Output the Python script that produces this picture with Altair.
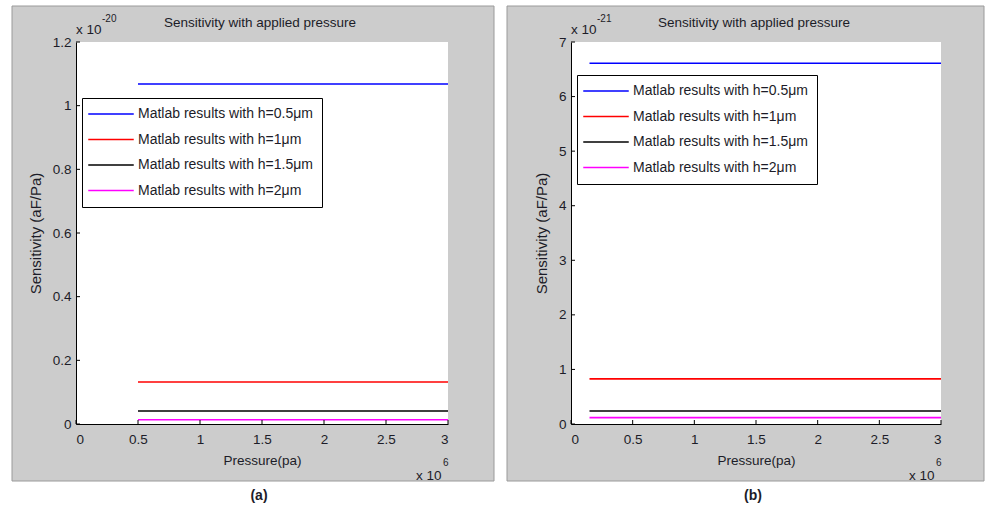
import altair as alt
import pandas as pd

# Series labels and colours (shared by both panels)
series_labels = [
    "Matlab results with h=0.5μm",
    "Matlab results with h=1μm",
    "Matlab results with h=1.5μm",
    "Matlab results with h=2μm",
]
series_colors = ["#0000ff", "#ff0000", "#000000", "#ff00ff"]

# Panel (a): pressure in units of 1e6 Pa, sensitivity in units of 1e-20 aF/Pa
pressure_a = [0.5, 3.0]
sens_a = [1.068, 0.132, 0.041, 0.0135]
yticks_a = [0, 0.2, 0.4, 0.6, 0.8, 1.0, 1.2]

# Panel (b): pressure in units of 1e6 Pa, sensitivity in units of 1e-21 aF/Pa
pressure_b = [0.15, 3.0]
sens_b = [6.61, 0.827, 0.239, 0.116]
yticks_b = [0, 1, 2, 3, 4, 5, 6, 7]

xticks = [0, 0.5, 1.0, 1.5, 2.0, 2.5, 3.0]

FONT = "Liberation Sans"
FS = 13.5
TXT = "#1c1c28"
H = 382


def series_frame(pressure, sens):
    rows = []
    for lab, s in zip(series_labels, sens):
        for p in pressure:
            rows.append({"p": p, "s": s, "series": lab})
    return pd.DataFrame(rows)


def text_at(txt, x, y, size=FS, align="left", weight="normal", baseline="alphabetic"):
    return (
        alt.Chart(pd.DataFrame({"k": [0]}))
        .mark_text(font=FONT, fontSize=size, align=align, baseline=baseline,
                   fontWeight=weight, color=TXT)
        .encode(x=alt.value(x), y=alt.value(y), text=alt.value(txt))
    )


def panel(pressure, sens, ymax, yticks, W, exp_txt, caption, leg_y, gray_right):
    xscale = alt.Scale(domain=[0, 3], nice=False)
    yscale = alt.Scale(domain=[0, ymax], nice=False)
    one = pd.DataFrame({"k": [0]})

    gray = alt.Chart(one).mark_rect(fill="#cccccc", stroke="#9a9a9a", strokeWidth=1).encode(
        x=alt.value(-64), x2=alt.value(W + gray_right), y=alt.value(-36), y2=alt.value(H + 57)
    )
    white = alt.Chart(one).mark_rect(fill="white").encode(
        x=alt.value(0), x2=alt.value(W), y=alt.value(0), y2=alt.value(H)
    )

    xaxis = alt.Axis(
        values=xticks, format="~g", ticks=False, grid=False, domainColor="black",
        labelFont=FONT, labelFontSize=FS, labelColor=TXT, labelPadding=8,
        title="Pressure(pa)", titleFont=FONT, titleFontSize=FS, titleFontWeight="normal",
        titleColor=TXT, titlePadding=8, zindex=1)
    yaxis = alt.Axis(
        values=yticks, format="~g", ticks=False, grid=False, domainColor="black",
        labelFont=FONT, labelFontSize=FS, labelColor=TXT, labelPadding=5,
        title="Sensitivity (aF/Pa)", titleFont=FONT, titleFontSize=15,
        titleFontWeight="normal", titleColor=TXT, titlePadding=9, zindex=1)

    lines = alt.Chart(series_frame(pressure, sens)).mark_line(strokeWidth=1.6).encode(
        x=alt.X("p:Q", scale=xscale, axis=xaxis),
        y=alt.Y("s:Q", scale=yscale, axis=yaxis),
        color=alt.Color("series:N", scale=alt.Scale(domain=series_labels, range=series_colors),
                        legend=alt.Legend(
                            title=None, orient="none", legendX=6, legendY=leg_y,
                            fillColor="white", strokeColor="black", padding=9,
                            symbolType="M-6.5,0H6.5", symbolSize=49, symbolStrokeWidth=1.6,
                            symbolOffset=13, labelOffset=20, rowPadding=11.5,
                            labelFont=FONT, labelFontSize=14, labelColor=TXT,
                            labelLimit=400, zindex=1)),
    )

    # inward tick marks along both axes
    xt = alt.Chart(pd.DataFrame({"p": xticks})).mark_rule(color="black").encode(
        x=alt.X("p:Q", scale=xscale, axis=xaxis), y=alt.value(H - 4), y2=alt.value(H)
    )
    yt = alt.Chart(pd.DataFrame({"s": yticks})).mark_rule(color="black").encode(
        y=alt.Y("s:Q", scale=yscale, axis=yaxis), x=alt.value(0), x2=alt.value(4)
    )

    texts = [
        text_at("Sensitivity with applied pressure", W / 2 - 2, -15, align="center"),
        text_at("x 10", 0, -8),
        text_at(exp_txt, 26, -20, size=10),
        text_at("x 10", W - 32, H + 56),
        text_at("6", W - 5, H + 42, size=10),
        text_at(caption, W / 2 - 3, H + 72, size=14, align="center", weight="bold",
                baseline="middle"),
    ]

    return alt.layer(gray, white, lines, xt, yt, *texts).properties(width=W, height=H)


pa = panel(pressure_a, sens_a, 1.2, yticks_a, 372, "-20", "(a)", 56, 46)
pb = panel(pressure_b, sens_b, 7, yticks_b, 370, "-21", "(b)", 33, 43)

chart = (
    alt.hconcat(pa, pb, spacing=123, bounds="flush")
    .resolve_scale(color="independent", x="independent", y="independent")
    .properties(padding={"left": 11, "top": 5, "right": 0, "bottom": 0}, background="white")
    .configure_view(stroke=None)
)

chart.save("out.html", embed_options={"renderer": "svg", "actions": False})
